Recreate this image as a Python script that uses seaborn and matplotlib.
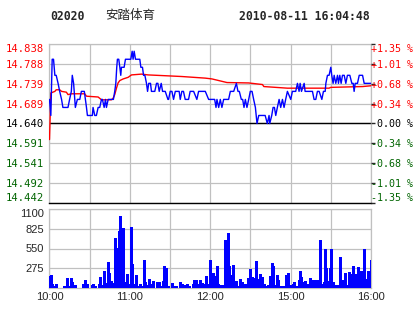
import matplotlib
matplotlib.use("Agg")
import matplotlib.pyplot as plt
import seaborn as sns
import pandas as pd

# ---------------- data ----------------
stock_code = "02020"
stock_name = "安踏体育"
stamp = "2010-08-11 16:04:48"
prev_close = 14.640

price_ticks = [14.442, 14.492, 14.541, 14.591, 14.640, 14.689, 14.739, 14.788, 14.838]
price_labels = ["14.442", "14.492", "14.541", "14.591", "14.640", "14.689", "14.739", "14.788", "14.838"]
pct_labels = ["-1.35 %", "-1.01 %", "-0.68 %", "-0.34 %", "0.00 %", "+0.34 %", "+0.68 %", "+1.01 %", "+1.35 %"]

vol_ticks = [275, 550, 825, 1100]
vol_tick_labels = ["275", "550", "825", "1100"]

grid_minutes = [0, 30, 60, 90, 120, 150, 180, 210, 240]
time_label_minutes = [0, 60, 120, 180, 240]
time_labels = ["10:00", "11:00", "12:00", "15:00", "16:00"]

# minutes of trading (0 = 10:00, 240 = 16:00)
price_t = [0, 1, 2, 3, 4, 5, 6.4, 7.6, 9, 10, 11.3, 13.8, 15, 16.3, 17, 18, 19.3, 20.8, 22.6, 23.8,
           26, 26.8, 27.6, 28.3, 32, 32.5, 33.8, 35, 36.3, 37.5, 38.8, 39.5, 40.8, 41.8, 42.5, 43.8,
           47.7, 48.7, 49.5, 50.2, 50.7, 51.7, 52.5, 53.2, 53.7, 55.7, 56.7, 60.7, 61.7, 62.4, 63.2,
           64.2, 67.4, 68.2, 69.4, 70.2, 71.2, 72.4, 73.2, 74.1, 75.4, 76.1, 78.6, 79.9, 80.9, 81.9,
           83.4, 84.4, 86.4, 88.4, 88.9, 90.1, 91.4, 92.6, 93.9, 96.8, 97.6, 98.8, 100, 101.3, 103.8,
           105, 107.6, 110, 111.3, 116.3, 118.8, 123.3, 124.3, 125, 126.3, 127.5, 128.7, 130, 133.7,
           135, 137.5, 139.5, 140.7, 141.7, 143.2, 144.2, 145.2, 146.2, 147.4, 148.7, 149.9, 151.2,
           152.4, 153.7, 154.9, 156.2, 161, 162.6, 163.9, 164.4, 165.9, 166.9, 167.9, 168.9, 170.1,
           171.4, 172.6, 173.9, 175.1, 176.3, 177.6, 180.1, 181.3, 183.8, 185.1, 186.3, 187.1, 188.1,
           190.1, 190.8, 196.3, 197.5, 198.8, 200, 201.3, 203.3, 204.5, 205.8, 206.3, 207.5, 208.7,
           210, 210.7, 211.7, 212.5, 213.7, 215, 215.7, 216.7, 217.7, 218.7, 220, 221.2, 222.4,
           224.2, 225.7, 226.7, 227.4, 228.2, 229.9, 231.2, 233.7, 234.9, 240]
price_v = [14.70, 14.66, 14.80, 14.80, 14.76, 14.76, 14.74, 14.72, 14.70, 14.68, 14.68, 14.68, 14.70,
           14.72, 14.76, 14.74, 14.68, 14.70, 14.70, 14.72, 14.72, 14.70, 14.68, 14.66, 14.66, 14.68,
           14.66, 14.66, 14.68, 14.68, 14.70, 14.70, 14.68, 14.70, 14.68, 14.70, 14.70, 14.72, 14.74,
           14.78, 14.80, 14.80, 14.78, 14.76, 14.78, 14.78, 14.80, 14.80, 14.82, 14.80, 14.82, 14.80,
           14.80, 14.78, 14.78, 14.76, 14.76, 14.74, 14.72, 14.74, 14.74, 14.72, 14.72, 14.74, 14.74,
           14.72, 14.74, 14.72, 14.72, 14.70, 14.70, 14.72, 14.72, 14.70, 14.72, 14.72, 14.70, 14.72,
           14.72, 14.70, 14.70, 14.72, 14.72, 14.70, 14.72, 14.72, 14.70, 14.70, 14.68, 14.70, 14.68,
           14.70, 14.68, 14.70, 14.70, 14.72, 14.72, 14.74, 14.72, 14.72, 14.70, 14.70, 14.68, 14.70,
           14.68, 14.70, 14.72, 14.72, 14.70, 14.68, 14.64, 14.66, 14.66, 14.64, 14.66, 14.64, 14.66,
           14.68, 14.68, 14.66, 14.68, 14.70, 14.68, 14.70, 14.68, 14.70, 14.72, 14.70, 14.72, 14.72,
           14.74, 14.72, 14.74, 14.72, 14.74, 14.72, 14.72, 14.70, 14.70, 14.72, 14.72, 14.70, 14.72,
           14.72, 14.74, 14.76, 14.76, 14.78, 14.76, 14.74, 14.76, 14.74, 14.76, 14.74, 14.76, 14.74,
           14.76, 14.76, 14.74, 14.76, 14.76, 14.74, 14.74, 14.72, 14.74, 14.74, 14.76, 14.76, 14.74,
           14.74]

avg_t = [0, 1, 4, 5, 7.6, 9, 12.6, 13.8, 16.3, 26.3, 27.6, 36.3, 38.8, 46.2, 47.5, 48.7, 50, 51.2,
         52.5, 55, 58.7, 61.2, 68.7, 73.6, 86.4, 98.8, 116.3, 121.3, 132.5, 148.7, 159, 160, 177.6,
         208.7, 210, 233.7, 240]
avg_v = [14.600, 14.716, 14.720, 14.724, 14.724, 14.720, 14.718, 14.712, 14.714, 14.714, 14.708,
         14.706, 14.699, 14.699, 14.703, 14.712, 14.728, 14.741, 14.747, 14.751, 14.755, 14.761,
         14.763, 14.761, 14.759, 14.757, 14.753, 14.751, 14.742, 14.741, 14.737, 14.732, 14.728,
         14.728, 14.730, 14.732, 14.734]

vol_t = [0.4, 1.1, 1.9, 3.4, 4.9, 10.8, 11.8, 13.1, 13.8, 16.3, 17.1, 19.3, 25.0, 26.0, 26.8, 28.3,
         31.8, 32.8, 34.3, 37.0, 38.0, 38.8, 40.2, 41.0, 41.7, 43.2, 44.0, 44.7, 46.2, 47.0, 47.7,
         49.0, 49.7, 50.5, 52.0, 53.0, 53.7, 55.2, 55.9, 56.7, 58.2, 58.9, 59.7, 61.2, 61.9, 62.7,
         64.2, 64.9, 65.7, 67.2, 67.9, 68.7, 70.2, 71.6, 73.1, 73.9, 74.6, 76.1, 76.9, 79.9, 80.6,
         82.1, 83.6, 85.1, 85.8, 86.6, 88.8, 91.1, 91.8, 93.3, 94.8, 97.1, 97.8, 98.6, 100.1, 100.8,
         103.0, 103.8, 104.5, 106.8, 107.5, 109.0, 109.8, 110.5, 112.0, 112.8, 113.5, 115.0, 115.8,
         116.5, 118.0, 118.7, 119.5, 121.0, 121.7,
         122.2, 123.0, 124.5, 125.2, 126.0, 127.5, 128.2, 129.0, 130.5, 131.2, 132.0, 133.5, 134.2,
         135.0, 136.4, 137.2, 137.9, 139.4, 140.9, 142.4, 143.2, 143.9, 145.4, 146.2, 146.9, 148.4,
         149.2, 149.9, 150.7, 151.4, 152.1, 152.9, 154.4, 155.1, 155.9, 157.4, 158.1, 158.9, 160.4,
         161.1, 162.6, 163.4, 164.1, 164.9, 166.4, 167.1, 167.8, 169.3, 170.1, 170.8, 171.6, 173.1,
         175.3, 176.1, 176.8, 177.6, 178.3, 179.8, 180.6, 182.1, 182.8, 183.5, 185.0, 186.5, 187.3,
         188.0, 189.5, 190.3, 191.0, 191.8, 193.3, 194.0, 194.8, 196.3, 197.0, 198.5, 199.2, 200.0,
         200.7, 202.2, 203.7, 205.2, 206.0, 206.7, 208.2, 209.0, 209.7, 210.5, 211.2, 212.0, 213.5,
         214.2, 214.9, 215.7, 216.4, 217.2, 217.9, 219.4, 220.2, 220.9, 221.7, 223.2, 223.9, 224.7,
         225.4, 226.2, 226.9, 227.7, 228.4, 229.1, 229.9, 230.6, 231.4, 232.1, 232.9, 233.6, 234.4,
         235.1, 235.9, 236.6, 237.4, 238.1, 238.9, 239.6, 240.0]
vol_v = [167, 181, 51, 28, 51, 28, 28, 135, 28, 135, 79, 42, 51, 51, 107, 51,
         42, 51, 28, 51, 153, 28, 42, 237, 65, 42, 357, 209, 97, 74, 42,
         700, 561, 422, 793, 1002, 56, 840, 42, 88, 195, 42, 51, 849, 334, 51,
         56, 181, 32, 56, 32, 32, 390, 84, 37, 32, 125, 51, 97, 28, 84,
         84, 28, 97, 306, 278, 32, 32, 70, 28, 28, 84, 56, 56, 28, 42,
         56, 28, 28, 56, 111, 111, 42, 56, 111, 56, 70, 28, 56,
         167, 56, 42, 390, 51, 111,
         209, 51, 167, 306, 51, 42, 28, 42, 28, 668, 181, 766, 306,
         181, 84, 320, 28, 97, 28, 125, 42, 84, 56, 56, 28, 139,
         139, 264, 42, 153, 139, 42, 376, 70, 125, 195, 70, 153, 56,
         28, 28, 42, 28, 167, 348, 306, 42, 28, 181, 111, 28, 28,
         28, 28, 181, 28, 209, 28, 42, 56, 84, 28, 28, 111, 237,
         153, 42, 84, 97, 56, 56, 56, 139, 97, 111, 56, 111, 111,
         56, 668, 56, 84, 543, 278, 97, 42, 278, 543, 84, 84, 42,
         42, 42, 42, 28, 431, 111, 42, 111, 209, 42, 42, 223, 195,
         56, 306, 28, 195, 42, 84, 139, 292, 111, 84, 237, 84, 56,
         543, 56, 125, 237, 97, 167, 237, 390]

# ---------------- style ----------------
sns.set_theme(style="white")
plt.rcParams["font.family"] = ["DejaVu Sans", "Noto Sans CJK SC"]

RED = "#ff0000"
GREEN = "#006400"
GRID = "#c0c0c0"
BLUE = "#0000ff"

W, H = 414, 314
fig = plt.figure(figsize=(W / 100, H / 100), dpi=100)
fig.patch.set_facecolor("white")

def frac(x0, y0, x1, y1):
    return [x0 / W, 1 - y1 / H, (x1 - x0) / W, (y1 - y0) / H]

ax = fig.add_axes(frac(49.5, 44, 371, 203))
axv = fig.add_axes(frac(49.5, 209, 371, 288))

price_df = pd.DataFrame({"t": price_t, "p": price_v})
avg_df = pd.DataFrame({"t": avg_t, "p": avg_v})

def label_color(i):
    return RED if i > 4 else ("black" if i == 4 else GREEN)

# ---------- price panel ----------
ax.set_xlim(0, 240)
ax.set_ylim(price_ticks[0], price_ticks[-1])
ax.set_xticks(grid_minutes)
ax.set_yticks(price_ticks)
ax.grid(True, color=GRID, linewidth=0.9)
ax.set_axisbelow(True)
ax.axhline(prev_close, color="black", linewidth=1.0, zorder=2)
sns.lineplot(data=avg_df, x="t", y="p", ax=ax, color=RED, linewidth=1.0, zorder=3)
sns.lineplot(data=price_df, x="t", y="p", ax=ax, color=BLUE, linewidth=1.0, zorder=4)
ax.set_xlabel("")
ax.set_ylabel("")
ax.tick_params(axis="x", labelbottom=False, length=0)
ax.tick_params(axis="y", length=0, pad=4)
ax.set_yticklabels(price_labels, fontfamily="DejaVu Sans Mono", fontsize=7.6)
labs = ax.get_yticklabels()
for i, lab in enumerate(labs):
    lab.set_color(label_color(i))
labs[0].set_verticalalignment("bottom")
labs[-1].set_verticalalignment("top")
for s in ["top", "left", "right"]:
    ax.spines[s].set_color(GRID)
    ax.spines[s].set_linewidth(0.9)
ax.spines["bottom"].set_color("black")
ax.spines["bottom"].set_linewidth(1.0)

axr = ax.twinx()
axr.set_ylim(price_ticks[0], price_ticks[-1])
axr.set_yticks(price_ticks)
axr.set_yticklabels(pct_labels, fontfamily="DejaVu Sans Mono", fontsize=7.2)
axr.tick_params(axis="y", length=3, width=1.0, direction="out", pad=27.5)
rlabs = axr.get_yticklabels()
for i, lab in enumerate(rlabs):
    lab.set_color(label_color(i))
    lab.set_horizontalalignment("right")
rlabs[0].set_verticalalignment("bottom")
rlabs[-1].set_verticalalignment("top")
for i, tk in enumerate(axr.yaxis.get_major_ticks()):
    tk.tick2line.set_color(label_color(i) if i != 4 else "white")
for s in axr.spines.values():
    s.set_visible(False)
axr.grid(False)

# ---------- volume panel ----------
axv.set_xlim(0, 240)
axv.set_ylim(0, 1100)
axv.set_xticks(grid_minutes)
axv.set_xticklabels([time_labels[time_label_minutes.index(g)] if g in time_label_minutes else ""
                     for g in grid_minutes], fontfamily="Liberation Sans", fontsize=8)
axv.set_yticks(vol_ticks)
axv.set_yticklabels(vol_tick_labels, fontfamily="Liberation Sans", fontsize=8)
axv.get_yticklabels()[-1].set_verticalalignment("top")
axv.grid(True, color=GRID, linewidth=0.9)
axv.set_axisbelow(True)
axv.vlines(vol_t, 0, vol_v, colors=BLUE, linewidth=0.75, antialiased=False, zorder=3)
axv.tick_params(axis="both", length=0)
axv.tick_params(axis="x", pad=3)
axv.tick_params(axis="y", pad=4)
for s in axv.spines.values():
    s.set_color(GRID)
    s.set_linewidth(0.9)

# ---------- header ----------
fig.text(50 / W, 1 - 16 / H, stock_code, fontfamily="DejaVu Sans Mono", fontweight="bold",
         fontsize=8.3, va="center", ha="left")
fig.text(105 / W, 1 - 16 / H, stock_name, fontfamily="Noto Sans CJK SC",
         fontsize=9, va="center", ha="left")
fig.text(370 / W, 1 - 16 / H, stamp, fontfamily="DejaVu Sans Mono", fontweight="bold",
         fontsize=8.3, va="center", ha="right")

fig.savefig("out.png", dpi=100, facecolor="white")
